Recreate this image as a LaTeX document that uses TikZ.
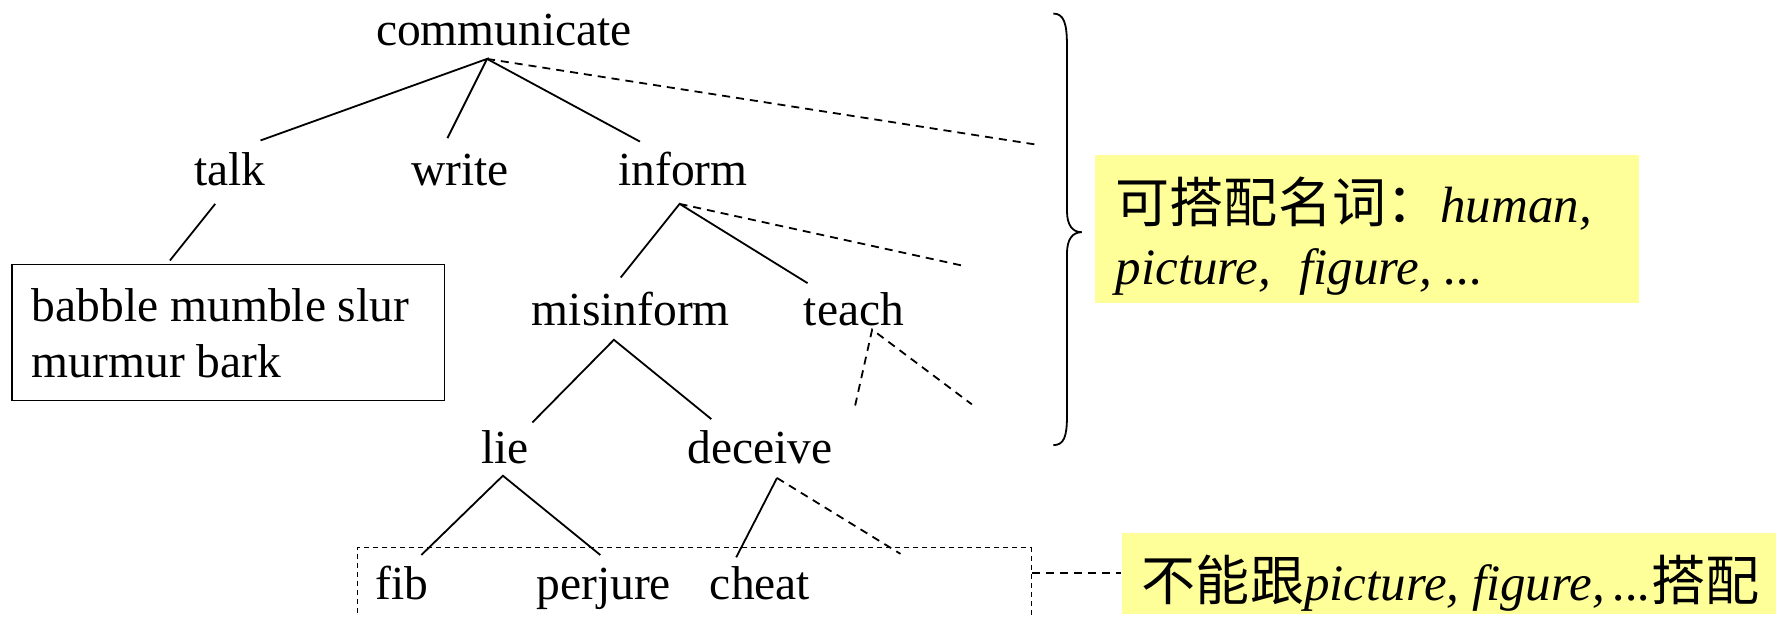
\documentclass[tikz,border=0pt]{standalone}
\usepackage{fontspec}
\setmainfont{Liberation Serif}
\newfontfamily\cjk{Noto Sans CJK SC}[Scale=1.06]
\definecolor{notebg}{RGB}{255,255,153}
\begin{document}
\begin{tikzpicture}[x=1.1327pt,y=-1.1327pt,
  word/.style={anchor=base, inner sep=0pt, font=\fontsize{47.5}{56.6}\selectfont},
  noteword/.style={anchor=base west, inner sep=0pt, font=\fontsize{51}{60}\selectfont},
  tline/.style={line width=1.8pt},
  dline/.style={line width=1.8pt, dash pattern=on 8pt off 6pt},
  boxline/.style={line width=1.3pt},
  note/.style={fill=notebg, inner sep=0pt, anchor=north west}]
\useasboundingbox (0,0) rectangle (1568,544.7);

% yellow notes (backgrounds)
\node[note, minimum width=543.7pt, minimum height=147.3pt] (note1) at (967,137) {};
\node[note, minimum width=700pt, minimum height=81.6pt] (note2) at (990,470) {};

% boxes
\node[draw, boxline, anchor=north west, inner sep=0pt, minimum width=432.7pt, minimum height=135.9pt] (talkset) at (10,233) {};
\node[draw, line width=1.2pt, dash pattern=on 5pt off 4pt, anchor=north west, inner sep=0pt, minimum width=674pt, minimum height=140pt] (dbox) at (315,483) {};

% words
\node[word] (communicate) at (445,40) {communicate};
\node[word] (talk) at (203,164) {talk};
\node[word] (write) at (406,164) {write};
\node[word] (inform) at (603,164) {inform};
\node[word] (misinform) at (557,287) {misinform};
\node[word] (teach) at (754,287) {teach};
\node[word] (lie) at (446,409) {lie};
\node[word] (deceive) at (671,409) {deceive};
\node[word] (fib) at (355,529) {fib};
\node[word] (perjure) at (533,529) {perjure};
\node[word] (cheat) at (671,529) {cheat};
\node[word, anchor=base west] (set1) at (28,284) {babble mumble slur};
\node[word, anchor=base west] (set2) at (28,333) {murmur bark};

\node[noteword] (n1a) at (985,196) {{\cjk 可搭配名词：}\textit{human,}};
\node[noteword] (n1b) at (985,251) {\textit{picture,\hspace{0.55em}figure, ...}};
\node[noteword] (n2) at (1008,530) {{\cjk 不能跟}\textit{picture, figure,\,...}{\cjk 搭配}};

% connector end points
\coordinate (cA) at (430,52);
\coordinate (cTalk) at (230,124);
\coordinate (cWrite) at (395,122);
\coordinate (cInform) at (565,125);
\coordinate (cD1) at (917,128);
\coordinate (tA) at (190,180);
\coordinate (tB) at (150,230);
\coordinate (iA) at (600,180);
\coordinate (iMis) at (548,245);
\coordinate (iTeach) at (713,250);
\coordinate (iD) at (852,235);
\coordinate (mA) at (542,300);
\coordinate (mLie) at (470,373);
\coordinate (mDec) at (628,370);
\coordinate (teA) at (770,291);
\coordinate (teB) at (755,358);
\coordinate (teC) at (858,357);
\coordinate (lA) at (444,420);
\coordinate (lFib) at (372,490);
\coordinate (lPer) at (530,490);
\coordinate (dA) at (686,422);
\coordinate (dCheat) at (650,492);
\coordinate (dD) at (795,489);

\draw[tline] (cTalk) -- (cA) -- (cWrite);
\draw[tline] (cA) -- (cInform);
\draw[dline] (cA) -- (cD1);
\draw[tline] (tA) -- (tB);
\draw[tline] (iMis) -- (iA) -- (iTeach);
\draw[dline] (iA) -- (iD);
\draw[tline] (mLie) -- (mA) -- (mDec);
\draw[dline] (teB) -- (teA) -- (teC);
\draw[tline] (lFib) -- (lA) -- (lPer);
\draw[tline] (dCheat) -- (dA);
\draw[dline] (dA) -- (dD);

% brace
\draw[line width=1.8pt] (930,12) .. controls (939,12) and (942,20) .. (942,40)
  -- (942,186) .. controls (942,199) and (947,205) .. (955,205)
  .. controls (947,205) and (942,211) .. (942,224)
  -- (942,368) .. controls (942,386) and (939,393) .. (930,393);

% dashed connector to the lower note
\draw[line width=2pt, dash pattern=on 8pt off 6pt] (dbox.east |- note2.west) -- (note2.west);
\end{tikzpicture}
\end{document}
